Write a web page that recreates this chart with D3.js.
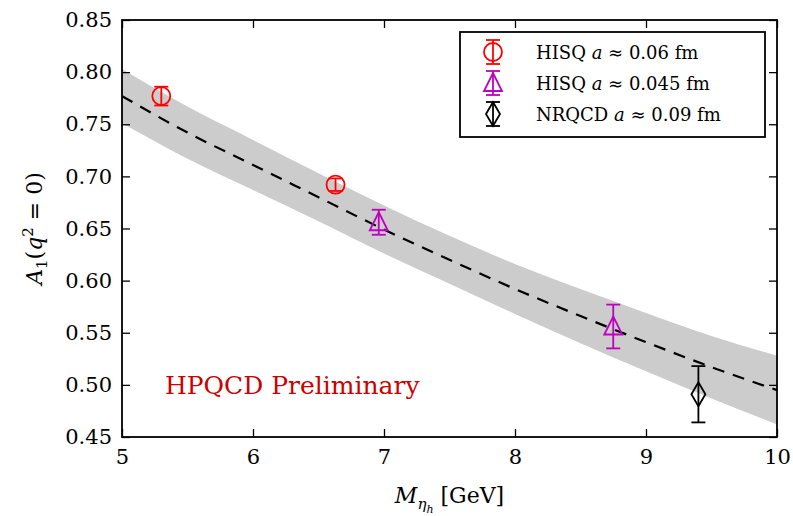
<!DOCTYPE html>
<meta charset="utf-8">
<script src="https://d3js.org/d3.v7.min.js"></script>
<style>
body{margin:0;background:#fff}
text{font-family:"DejaVu Serif",serif}
</style>
<div id="chart"></div>
<script>
// fit curve and band
var fitX = [5, 5.5, 6, 6.5, 7, 7.5, 8, 8.5, 9, 9.5, 10];
var fitY = [0.777, 0.742, 0.711, 0.680, 0.649, 0.620, 0.592, 0.566, 0.541, 0.517, 0.495];
var fitErr = [0.026, 0.025, 0.024, 0.023, 0.023, 0.023, 0.024, 0.026, 0.028, 0.030, 0.033];

// data points
var hisq06 = [{x: 5.30, y: 0.777, e: 0.009}, {x: 6.63, y: 0.692, e: 0.006}];
var hisq045 = [{x: 6.96, y: 0.656, e: 0.012}, {x: 8.75, y: 0.556, e: 0.021}];
var nrqcd = [{x: 9.40, y: 0.491, e: 0.027}];

var xTicks = [5, 6, 7, 8, 9, 10];
var yTicks = [0.45, 0.50, 0.55, 0.60, 0.65, 0.70, 0.75, 0.80, 0.85];

var W = 793, H = 516;
var margin = {top: 20, right: 16, bottom: 79, left: 122};
var width = W - margin.left - margin.right,
    height = H - margin.top - margin.bottom;

var svg = d3.select("#chart").append("svg").attr("width", W).attr("height", H);
var g = svg.append("g").attr("transform", "translate(" + margin.left + "," + margin.top + ")");

var x = d3.scaleLinear().domain([5, 10]).range([0, width]);
var y = d3.scaleLinear().domain([0.45, 0.85]).range([height, 0]);

var band = fitX.map(function(v, i) { return {x: v, y: fitY[i], e: fitErr[i]}; });

g.append("path").datum(band)
  .attr("fill", "#cccccc")
  .attr("d", d3.area().curve(d3.curveMonotoneX)
    .x(function(d) { return x(d.x); })
    .y0(function(d) { return y(d.y - d.e); })
    .y1(function(d) { return y(d.y + d.e); }));

g.append("path").datum(band)
  .attr("fill", "none").attr("stroke", "#000").attr("stroke-width", 2.2)
  .attr("stroke-dasharray", "12,9")
  .attr("d", d3.line().curve(d3.curveMonotoneX)
    .x(function(d) { return x(d.x); })
    .y(function(d) { return y(d.y); }));

function errbars(data, color) {
  data.forEach(function(d) {
    var cx = x(d.x);
    g.append("line").attr("x1", cx).attr("x2", cx).attr("y1", y(d.y - d.e)).attr("y2", y(d.y + d.e))
      .attr("stroke", color).attr("stroke-width", 1.8);
    [d.y - d.e, d.y + d.e].forEach(function(v) {
      g.append("line").attr("x1", cx - 7).attr("x2", cx + 7).attr("y1", y(v)).attr("y2", y(v))
        .attr("stroke", color).attr("stroke-width", 1.8);
    });
  });
}
function marker(sel, type, color) {
  if (type == "o") sel.append("circle").attr("r", 9);
  else if (type == "^") sel.append("path").attr("d", "M0,-10L9,8L-9,8Z");
  else sel.append("path").attr("d", "M0,-12L7,0L0,12L-7,0Z");
  sel.selectAll("*").attr("fill", "none").attr("stroke", color).attr("stroke-width", 1.8);
}
var series = [
  {data: hisq06, type: "o", color: "#ff0000", label: "HISQ ", val: "≈ 0.06 fm"},
  {data: hisq045, type: "^", color: "#bf00bf", label: "HISQ ", val: "≈ 0.045 fm"},
  {data: nrqcd, type: "d", color: "#000000", label: "NRQCD ", val: "≈ 0.09 fm"}
];
series.forEach(function(s) {
  errbars(s.data, s.color);
  s.data.forEach(function(d) {
    marker(g.append("g").attr("transform", "translate(" + x(d.x) + "," + y(d.y) + ")"), s.type, s.color);
  });
});

// axes
var xAxis = g.append("g").attr("transform", "translate(0," + height + ")")
  .call(d3.axisBottom(x).tickValues(xTicks).tickSize(-8).tickPadding(12).tickFormat(d3.format("d")));
var xTop = g.append("g").call(d3.axisTop(x).tickValues(xTicks).tickSize(-8).tickFormat(""));
var yAxis = g.append("g")
  .call(d3.axisLeft(y).tickValues(yTicks).tickSize(-8).tickPadding(10).tickFormat(d3.format(".2f")));
var yRight = g.append("g").attr("transform", "translate(" + width + ",0)")
  .call(d3.axisRight(y).tickValues(yTicks).tickSize(-8).tickFormat(""));
[xAxis, xTop, yAxis, yRight].forEach(function(a) {
  a.select(".domain").remove();
  a.selectAll("line").attr("stroke-width", 1.3);
  a.selectAll("text").attr("font-size", 21).attr("fill", "#000").attr("font-family", null)
    .style("font-family", "DejaVu Serif");
});
g.append("rect").attr("width", width).attr("height", height)
  .attr("fill", "none").attr("stroke", "#000").attr("stroke-width", 1.8);

// axis labels
var xl = svg.append("text").attr("x", margin.left + width / 2).attr("y", 503)
  .attr("text-anchor", "middle").attr("font-size", 22);
xl.append("tspan").attr("font-style", "italic").text("M");
xl.append("tspan").attr("font-style", "italic").attr("font-size", 15).attr("dy", 6).text("η");
xl.append("tspan").attr("font-style", "italic").attr("font-size", 11).attr("dy", 4).text("h");
xl.append("tspan").attr("dy", -10).text(" [GeV]");

var yl = svg.append("text").attr("transform", "translate(42," + (margin.top + height / 2) + ") rotate(-90)")
  .attr("text-anchor", "middle").attr("font-size", 22);
yl.append("tspan").attr("font-style", "italic").text("A");
yl.append("tspan").attr("font-size", 15).attr("dy", 5).text("1");
yl.append("tspan").attr("dy", -5).text("(");
yl.append("tspan").attr("font-style", "italic").text("q");
yl.append("tspan").attr("font-size", 15).attr("dy", -9).text("2");
yl.append("tspan").attr("dy", 9).text(" = 0)");

// watermark
g.append("text").attr("x", 43).attr("y", 374).attr("font-size", 25).attr("fill", "#cc0000")
  .text("HPQCD Preliminary");

// legend
var lg = svg.append("g").attr("transform", "translate(460,32)");
lg.append("rect").attr("width", 305).attr("height", 105).attr("fill", "#fff")
  .attr("stroke", "#000").attr("stroke-width", 1.8);
series.forEach(function(s, i) {
  var cy = 20 + i * 31;
  var m = lg.append("g").attr("transform", "translate(33," + cy + ")");
  m.append("line").attr("x1", 0).attr("x2", 0).attr("y1", -12).attr("y2", 12).attr("stroke", s.color).attr("stroke-width", 1.8);
  m.append("line").attr("x1", -7).attr("x2", 7).attr("y1", -12).attr("y2", -12).attr("stroke", s.color).attr("stroke-width", 1.8);
  m.append("line").attr("x1", -7).attr("x2", 7).attr("y1", 12).attr("y2", 12).attr("stroke", s.color).attr("stroke-width", 1.8);
  marker(m.append("g"), s.type, s.color);
  var t = lg.append("text").attr("x", 76).attr("y", cy + 7).attr("font-size", 18);
  t.append("tspan").text(s.label);
  t.append("tspan").attr("font-style", "italic").text("a");
  t.append("tspan").text(" " + s.val);
});
</script>
